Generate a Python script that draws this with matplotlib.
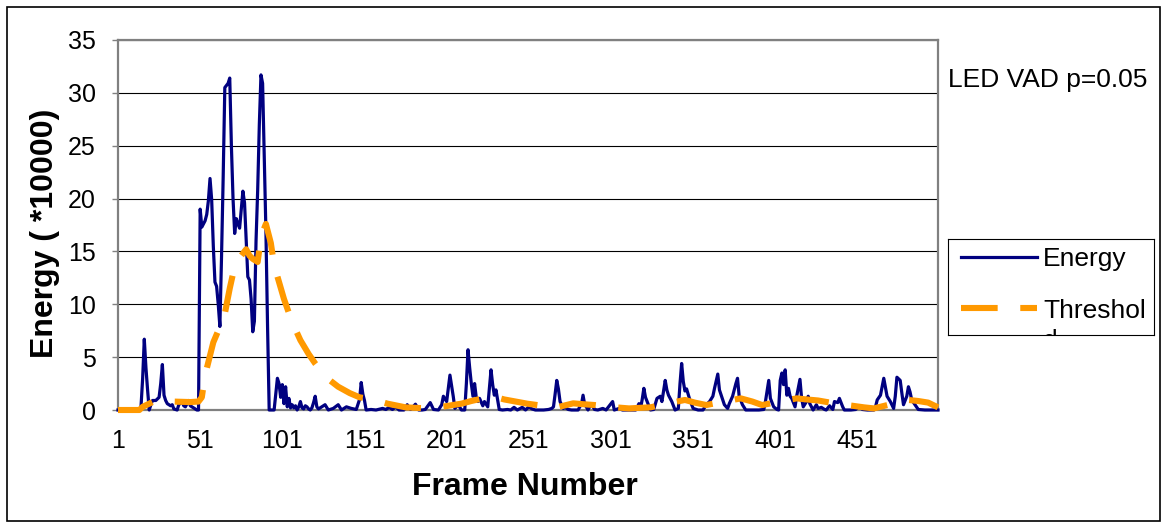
import matplotlib
matplotlib.use('Agg')
from matplotlib import pyplot as plt
from matplotlib.patches import Rectangle

plt.rcParams['font.family'] = ['Liberation Sans', 'DejaVu Sans']

# Energy per frame (*10000) at the visible vertices
energy_frames = [
    1, 14, 15, 16, 17, 18, 19, 20, 21, 22, 24, 26, 27, 28, 29, 30, 31, 33, 34, 35,
    37, 38, 40, 41, 42, 44, 45, 47, 48, 49, 50, 51, 52, 53, 54, 55, 56, 57, 58, 59,
    60, 61, 62, 63, 64, 65, 66, 67, 68, 69, 70, 71, 72, 73, 74, 75, 76, 77, 78, 79,
    80, 81, 82, 83, 84, 85, 86, 87, 88, 89, 90, 91, 92, 93, 96, 97, 98, 99, 100, 101,
    102, 103, 104, 105, 106, 107, 108, 109, 110, 111, 112, 113, 114, 115, 116, 117, 118, 119, 120, 121,
    122, 123, 125, 127, 129, 132, 135, 137, 140, 143, 146, 148, 149, 150, 151, 152, 155, 158, 162, 164,
    166, 168, 170, 172, 175, 177, 179, 182, 184, 186, 188, 191, 193, 196, 198, 199, 201, 203, 205, 206,
    208, 210, 212, 213, 214, 215, 216, 217, 218, 219, 220, 221, 223, 224, 226, 227, 228, 229, 230, 231,
    232, 233, 235, 238, 240, 242, 244, 247, 249, 251, 253, 255, 260, 263, 265, 266, 267, 268, 269, 270,
    272, 273, 275, 277, 281, 282, 283, 284, 285, 286, 287, 289, 291, 293, 296, 298, 300, 302, 303, 306,
    308, 316, 317, 318, 319, 320, 321, 322, 323, 325, 327, 329, 331, 332, 333, 334, 335, 336, 338, 340,
    342, 343, 344, 345, 346, 347, 349, 351, 354, 357, 359, 361, 363, 364, 366, 367, 369, 370, 372, 373,
    375, 377, 378, 379, 381, 383, 391, 394, 395, 397, 398, 400, 402, 403, 404, 405, 406, 407, 408, 409,
    410, 411, 413, 414, 416, 417, 418, 420, 421, 422, 424, 426, 427, 429, 431, 432, 434, 436, 437, 439,
    440, 442, 443, 447, 450, 452, 454, 457, 461, 462, 463, 465, 466, 467, 469, 471, 473, 474, 475, 477,
    478, 479, 481, 482, 483, 484, 486, 488, 492, 500,
]
energy_values = [
    0, 0, 0.3, 3.0, 6.7, 4.0, 1.9, 0, 0.5, 0.9, 0.9, 1.2, 2.5, 4.3, 1.4, 0.9, 0.6, 0.4, 0.5, 0.1,
    0, 0.5, 0.8, 0.4, 0.3, 0.9, 0.4, 0.2, 0.1, 0, 0, 19.0, 17.3, 17.6, 17.9, 18.5, 19.8, 21.9, 19.9, 15.5,
    12.1, 11.7, 10.0, 7.9, 14.5, 22.0, 30.5, 30.7, 30.9, 31.4, 25.0, 20.0, 16.7, 18.1, 17.6, 17.2, 19.0, 20.7, 19.6, 16.0,
    12.6, 12.3, 10.5, 7.4, 8.4, 16.0, 20.8, 27.0, 31.7, 30.9, 24.0, 17.0, 8.0, 0, 0, 1.5, 3.0, 2.5, 1.2, 2.4,
    0.6, 2.2, 0.3, 1.1, 0.2, 0.5, 0.2, 0.4, 0, 0.3, 0.8, 0.2, 0.1, 0.4, 0.3, 0.1, 0, 0.2, 0.7, 1.3,
    0.3, 0.1, 0.3, 0.5, 0, 0.15, 0.5, 0, 0.3, 0.15, 0.05, 1.0, 2.6, 1.5, 0.9, 0, 0.05, 0, 0.15, 0.05,
    0.25, 0.05, 0.3, 0, 0, 0.5, 0.05, 0.55, 0, 0, 0.05, 0.7, 0.05, 0, 0.5, 1.3, 0.8, 3.3, 1.3, 0.15,
    0.5, 0, 0, 2.5, 5.7, 4.0, 2.5, 1.3, 2.5, 1.2, 0.8, 1.1, 0.4, 0.8, 0.3, 2.0, 3.8, 2.4, 1.4, 1.9,
    1.0, 0.05, 0, 0.05, 0, 0.25, 0, 0.25, 0, 0.3, 0.1, 0, 0, 0.05, 0.15, 0.3, 1.5, 2.8, 2.0, 0.8,
    0.15, 0.25, 0.05, 0, 0, 0.3, 0.5, 1.4, 0.5, 0.3, 0, 0.6, 0.05, 0, 0.15, 0, 0.4, 0.8, 0, 0.15,
    0, 0, 0.25, 0.6, 0.15, 1.0, 2.05, 1.2, 0.8, 0, 0.05, 1.1, 1.3, 0.8, 1.8, 2.8, 1.9, 1.4, 0.8, 0,
    0.15, 2.5, 4.4, 2.7, 1.8, 2.0, 0.95, 0.15, 0, 0, 0.5, 0.8, 1.3, 2.05, 3.4, 1.9, 0.95, 0.5, 0.15, 0.6,
    1.3, 2.5, 3.0, 1.3, 0.5, 0, 0, 0.05, 0.8, 2.8, 1.1, 0.3, 0.05, 0, 2.8, 3.5, 2.4, 3.8, 1.4, 2.05,
    1.3, 1.1, 0.3, 1.3, 2.9, 1.1, 0.3, 0.8, 1.3, 0.6, 0, 0.5, 0.15, 0.25, 0.05, 0, 0.4, 0.05, 0.8, 0.7,
    1.1, 0.3, 0, 0, 0.05, 0.4, 0.05, 0, 0, 0.3, 0.95, 1.4, 2.2, 3.0, 1.3, 0.8, 0.15, 1.3, 3.1, 2.8,
    1.6, 0.5, 1.3, 2.2, 1.7, 0.95, 0.5, 0.05, 0, 0,
]

# Adaptive threshold (*10000)
threshold_frames = [
    1, 14, 16, 20, 22, 28, 34, 45, 50, 52, 54, 59, 62, 65, 69, 72, 76, 79, 81, 83,
    86, 88, 91, 94, 96, 102, 107, 112, 117, 121, 125, 130, 135, 142, 148, 156, 165, 176, 183, 190,
    200, 210, 216, 223, 229, 236, 243, 250, 257, 262, 267, 272, 278, 284, 291, 300, 312, 318, 325, 335,
    346, 352, 359, 370, 380, 387, 393, 404, 414, 420, 427, 438, 448, 455, 461, 470, 482, 488, 494, 500,
]
threshold_values = [
    0, 0, 0.3, 0.6, 0.75, 0.9, 0.8, 0.75, 0.8, 1.2, 3.3, 6.4, 7.5, 8.3, 11.5, 13.6, 14.6, 15.2, 14.6, 14.3,
    14.0, 16.4, 17.6, 15.8, 13.7, 10.5, 8.3, 6.6, 5.3, 4.4, 3.6, 2.8, 2.2, 1.6, 1.2, 1.0, 0.6, 0.25, 0.2, 0.15,
    0.35, 0.6, 0.85, 1.1, 1.3, 1.0, 0.8, 0.6, 0.45, 0.3, 0.2, 0.4, 0.63, 0.55, 0.47, 0.3, 0.15, 0.2, 0.25, 0.6,
    0.95, 0.7, 0.47, 0.8, 1.1, 0.8, 0.47, 0.8, 1.1, 1.0, 0.9, 0.6, 0.4, 0.25, 0.15, 0.5, 0.95, 0.85, 0.7, 0.25,
]

x_ticks = [1, 51, 101, 151, 201, 251, 301, 351, 401, 451]
y_ticks = [0, 5, 10, 15, 20, 25, 30, 35]

NAVY = '#000080'
ORANGE = '#FF9900'
GRAY = '#808080'
DASH = (6.0, 3.7)

W, H = 1167, 528
fig = plt.figure(figsize=(W / 100, H / 100), dpi=100)


def px_box(left, top, right, bottom):
    return [left / W, 1 - bottom / H, (right - left) / W, (bottom - top) / H]


# outer chart border
fig.patches.append(Rectangle((7 / W, 1 - 521 / H), (1160 - 7) / W, (521 - 7) / H,
                             transform=fig.transFigure, fill=False,
                             edgecolor='black', lw=1.2))

ax = fig.add_axes(px_box(118, 40, 938, 410))
ax.plot(energy_frames, energy_values, color=NAVY, lw=2.3,
        solid_joinstyle='round', zorder=3, clip_on=False)
ax.plot(threshold_frames, threshold_values, color=ORANGE, lw=4.4,
        dashes=DASH, dash_capstyle='butt', zorder=4, clip_on=False)

ax.set_xlim(1, 500)
ax.set_ylim(0, 35)
ax.set_xticks(x_ticks)
ax.set_yticks(y_ticks)
ax.grid(axis='y', color='black', lw=0.8)
ax.set_axisbelow(True)
for sp in ax.spines.values():
    sp.set_color(GRAY)
    sp.set_linewidth(1.6)
ax.tick_params(axis='y', length=4, color=GRAY, width=1, pad=12, labelsize=18)
ax.tick_params(axis='x', length=0, pad=14, labelsize=18)

ax.set_xlabel('Frame Number', fontsize=23, fontweight='bold', va='center')
ax.xaxis.set_label_coords((525 - 118) / 820, (410 - 487) / 370)
ax.set_ylabel('Energy ( *10000)', fontsize=23, fontweight='bold', va='center')
ax.yaxis.set_label_coords((45 - 118) / 820, (410 - 233) / 370)

fig.text(948 / W, 1 - 87 / H, 'LED VAD p=0.05', fontsize=19, va='baseline')

# legend box drawn by hand (Excel clips the wrapped "d")
lg = fig.add_axes(px_box(948, 239, 1154, 335))
lg.set_xlim(0, 206)
lg.set_ylim(96, 0)
lg.set_xticks([])
lg.set_yticks([])
for sp in lg.spines.values():
    sp.set_color('black')
    sp.set_linewidth(0.8)
lg.plot([13, 89], [17.7, 17.7], color=NAVY, lw=2.3)
lg.plot([13, 89], [68.7, 68.7], color=ORANGE, lw=4.4, dashes=DASH,
        dash_capstyle='butt')
lg.text(95, 27, 'Energy', fontsize=19, va='baseline')
lg.text(95, 79.3, 'Threshol', fontsize=19, va='baseline')
lg.text(95, 109.5, 'd', fontsize=19, va='baseline', clip_on=True)

fig.savefig('out.png', dpi=100)
